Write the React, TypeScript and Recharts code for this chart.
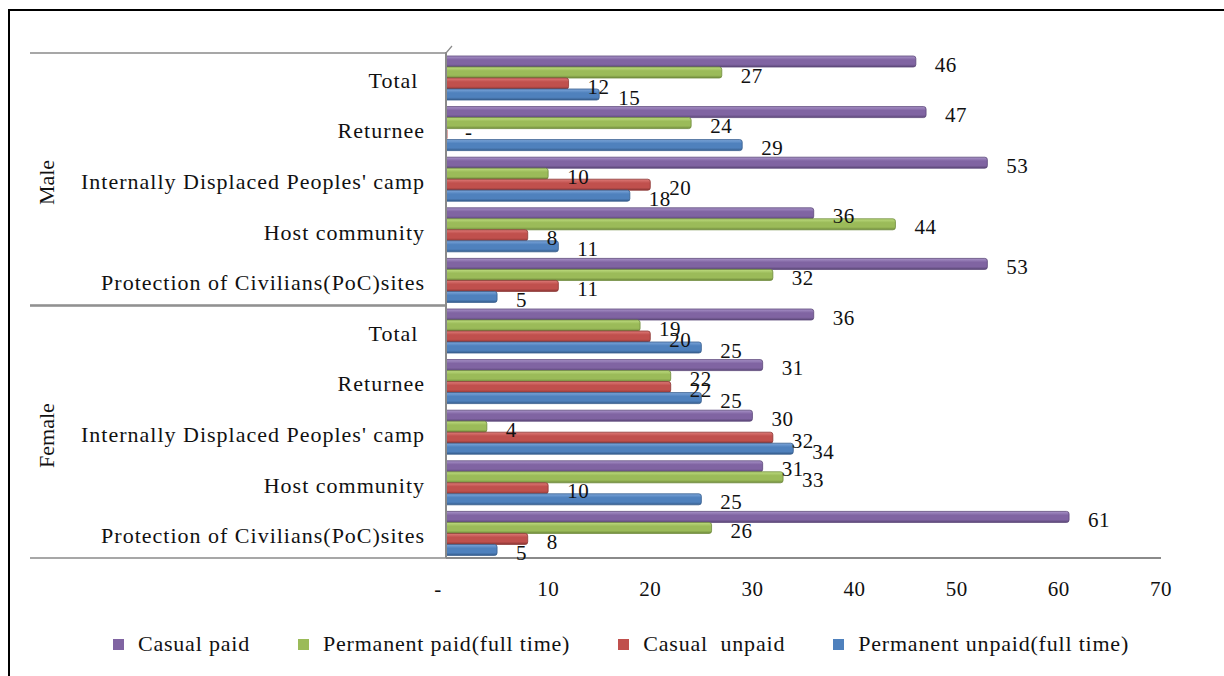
import React from 'react';
import { BarChart, Bar, XAxis, YAxis, LabelList, Legend } from 'recharts';

// Employment status by settlement type, split by sex (percent)
const genders = ['Male', 'Male', 'Male', 'Male', 'Male', 'Female', 'Female', 'Female', 'Female', 'Female'];
const places = [
  'Total ',
  'Returnee',
  "Internally Displaced Peoples' camp",
  'Host community',
  'Protection of Civilians(PoC)sites',
  'Total ',
  'Returnee',
  "Internally Displaced Peoples' camp",
  'Host community',
  'Protection of Civilians(PoC)sites',
];
const casualPaid = [46, 47, 53, 36, 53, 36, 31, 30, 31, 61];
const permanentPaid = [27, 24, 10, 44, 32, 19, 22, 4, 33, 26];
const casualUnpaid = [12, 0, 20, 8, 11, 20, 22, 32, 10, 8];
const permanentUnpaid = [15, 29, 18, 11, 5, 25, 25, 34, 25, 5];
const xTicks = [0, 10, 20, 30, 40, 50, 60, 70];

const data = places.map((place, i) => ({
  id: `${genders[i]}-${i}`,
  gender: genders[i],
  place,
  casualPaid: casualPaid[i],
  permanentPaid: permanentPaid[i],
  casualUnpaid: casualUnpaid[i],
  permanentUnpaid: permanentUnpaid[i],
}));

const series = [
  { key: 'casualPaid', name: 'Casual paid', base: '#8064A2', light: '#A893C8', dark: '#5C4878' },
  { key: 'permanentPaid', name: 'Permanent paid(full time)', base: '#9BBB59', light: '#BEDC80', dark: '#6F8A3C' },
  { key: 'casualUnpaid', name: 'Casual  unpaid', base: '#C0504D', light: '#DE7B78', dark: '#8C3735' },
  { key: 'permanentUnpaid', name: 'Permanent unpaid(full time)', base: '#4F81BD', light: '#7DA6DA', dark: '#375E8D' },
];

const FONT = '"Liberation Serif", "Times New Roman", serif';
const W = 1224;
const H = 676;
const PLOT_TOP = 52;
const PLOT_BOTTOM = 558;
const Y_AXIS_WIDTH = 446;
const TICK_MARGIN = 21;
const BAND = (PLOT_BOTTOM - PLOT_TOP) / places.length;
const AXIS_GREY = '#8a8a8a';

const makeBarShape = (s: typeof series[number]) => (props: any) => {
  const { x, y, width, height } = props;
  if (!width || width <= 0.5) {
    return <rect x={x} y={y + 1} width={1.5} height={Math.max(0, height - 2)} fill={s.base} />;
  }
  const r = Math.min(2.5, width / 2);
  const d = `M${x},${y} H${x + width - r} Q${x + width},${y} ${x + width},${y + r} V${y + height - r} Q${x + width},${y + height} ${x + width - r},${y + height} H${x} Z`;
  return <path d={d} fill={`url(#grad-${s.key})`} stroke={s.dark} strokeWidth={0.8} />;
};

const ValueLabel = (props: any) => {
  const { x, y, width, height, value } = props;
  const isZero = value === 0;
  return (
    <text
      x={x + (width || 0) + 19}
      y={y + height / 2 + (isZero ? -2 : 3)}
      dominantBaseline="central"
      textAnchor="start"
      fontFamily={FONT}
      fontSize={21}
      letterSpacing={0.5}
      fill="#111"
    >
      {isZero ? '-' : value}
    </text>
  );
};

const CategoryTick = (props: any) => {
  const { x, y, payload, index } = props;
  const i = typeof payload?.index === 'number' ? payload.index : index;
  const axisX = x + TICK_MARGIN;
  return (
    <g>
      <text
        x={x}
        y={y + 3}
        textAnchor="end"
        dominantBaseline="central"
        fontFamily={FONT}
        fontSize={22}
        letterSpacing={1}
        fill="#111"
        style={{ whiteSpace: 'pre' }}
      >
        {places[i]}
      </text>
      {i % 5 === 0 && (
        <line x1={30} x2={axisX} y1={y - BAND / 2 + 1} y2={y - BAND / 2 + 1} stroke={AXIS_GREY} strokeWidth={1.5} />
      )}
      {i % 5 === 4 && (
        <line x1={30} x2={axisX} y1={y + BAND / 2} y2={y + BAND / 2} stroke={AXIS_GREY} strokeWidth={1.5} />
      )}
      {i === 0 && (
        <path d={`M${axisX},${y - BAND / 2 + 1} L${axisX + 6},${y - BAND / 2 - 6}`} stroke={AXIS_GREY} strokeWidth={1.2} fill="none" />
      )}
      {i % 5 === 2 && (
        <text
          x={46}
          y={y + 4}
          transform={`rotate(-90, 46, ${y + 4})`}
          textAnchor="middle"
          dominantBaseline="central"
          fontFamily={FONT}
          fontSize={22}
          fill="#111"
        >
          {genders[i]}
        </text>
      )}
    </g>
  );
};

const ValueTick = (props: any) => {
  const { x, y, payload } = props;
  const isZero = payload.value === 0;
  return (
    <text
      x={isZero ? x - 8 : x}
      y={y + 31}
      textAnchor="middle"
      dominantBaseline="central"
      fontFamily={FONT}
      fontSize={21}
      letterSpacing={0.5}
      fill="#111"
    >
      {isZero ? '-' : payload.value}
    </text>
  );
};

const LegendContent = () => (
  <div
    style={{
      display: 'flex',
      justifyContent: 'center',
      alignItems: 'center',
      gap: 48,
      fontFamily: FONT,
      fontSize: 22,
      letterSpacing: 0.8,
      color: '#111',
      paddingLeft: 18,
    }}
  >
    {series.map((s) => (
      <div key={s.key} style={{ display: 'flex', alignItems: 'center', whiteSpace: 'pre' }}>
        <span style={{ display: 'inline-block', width: 11, height: 11, background: s.base, marginRight: 14 }} />
        {s.name}
      </div>
    ))}
  </div>
);

export default function App() {
  return (
    <div style={{ position: 'absolute', left: 0, top: 0, width: W, height: H, background: '#fff' }}>
      <div
        style={{
          position: 'absolute',
          left: 8,
          top: 9,
          width: W - 8,
          height: H - 9,
          borderLeft: '2px solid #000',
          borderTop: '2px solid #000',
          boxSizing: 'border-box',
        }}
      />
      <div style={{ position: 'absolute', left: 0, top: 0 }}>
        <BarChart
          width={W}
          height={H}
          data={data}
          layout="vertical"
          margin={{ top: PLOT_TOP, right: 63, bottom: 0, left: 0 }}
          barCategoryGap={4}
          barGap={0}
        >
          <defs>
            {series.map((s) => (
              <linearGradient key={s.key} id={`grad-${s.key}`} x1="0" y1="0" x2="0" y2="1">
                <stop offset="0%" stopColor={s.light} />
                <stop offset="35%" stopColor={s.base} />
                <stop offset="75%" stopColor={s.base} />
                <stop offset="100%" stopColor={s.dark} />
              </linearGradient>
            ))}
          </defs>
          <XAxis
            type="number"
            domain={[0, 70]}
            ticks={xTicks}
            interval={0}
            height={H - PLOT_BOTTOM}
            tickLine={false}
            tickSize={0}
            tickMargin={0}
            axisLine={{ stroke: AXIS_GREY, strokeWidth: 2 }}
            tick={<ValueTick />}
          />
          <YAxis
            type="category"
            dataKey="id"
            width={Y_AXIS_WIDTH}
            interval={0}
            tickLine={false}
            tickSize={0}
            tickMargin={TICK_MARGIN}
            axisLine={{ stroke: AXIS_GREY, strokeWidth: 2 }}
            tick={<CategoryTick />}
          />
          <Legend
            layout="horizontal"
            verticalAlign="middle"
            align="center"
            wrapperStyle={{ top: 631, left: 0, width: W }}
            content={<LegendContent />}
          />
          {series.map((s) => (
            <Bar
              key={s.key}
              dataKey={s.key}
              name={s.name}
              fill={s.base}
              shape={makeBarShape(s)}
              isAnimationActive={false}
            >
              <LabelList dataKey={s.key} content={<ValueLabel />} />
            </Bar>
          ))}
        </BarChart>
      </div>
    </div>
  );
}
